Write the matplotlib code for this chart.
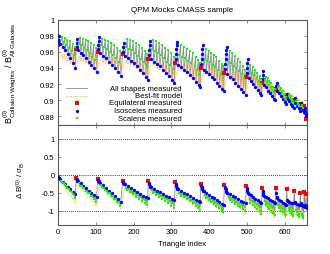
import numpy as np
import matplotlib
matplotlib.use("Agg")
import matplotlib.pyplot as plt

plt.rcParams['font.family'] = ['Liberation Sans', 'DejaVu Sans']
plt.rcParams['mathtext.fontset'] = 'custom'
plt.rcParams['mathtext.rm'] = 'Liberation Sans'
plt.rcParams['mathtext.it'] = 'Liberation Sans:italic'
plt.rcParams['font.size'] = 5.5

# equilateral triangle opening each k1 block
eq_idx = [0, 48, 105, 171, 239, 310, 378, 440, 498, 540, 576, 605, 625, 641, 651, 656]
eq_top = [0.968, 0.964, 0.960, 0.957, 0.951, 0.946, 0.940, 0.934, 0.929, 0.921, 0.914, 0.904, 0.900, 0.895, 0.893, 0.877]
eq_bot = [-0.05, -0.08, -0.11, -0.16, -0.18, -0.20, -0.25, -0.28, -0.31, -0.36, -0.37, -0.41, -0.46, -0.50, -0.48, -0.54]

# isosceles k1=k2<k3 right after the equilateral
col_idx = [1, 2, 3,  49, 50, 51,  106, 107, 108, 109,  172, 173, 174,  240, 241, 242, 243,
           311, 312, 313, 314, 315,  379, 380, 381, 382, 383,  441, 442, 443, 444, 445, 446,
           499, 500, 501, 502,  541, 542, 543,  577, 578,  606,  626,  642,  652, 653,  657]
col_top = [0.972, 0.975, 0.979,  0.966, 0.971, 0.976,  0.963, 0.969, 0.974, 0.978,  0.960, 0.966, 0.971,
           0.956, 0.962, 0.968, 0.973,  0.951, 0.957, 0.963, 0.968, 0.972,  0.945, 0.951, 0.957, 0.963, 0.968,
           0.939, 0.945, 0.951, 0.957, 0.962, 0.966,  0.934, 0.940, 0.946, 0.951,  0.926, 0.931, 0.936,
           0.918, 0.922,  0.908,  0.903,  0.897,  0.890, 0.887,  0.880]
col_bot = [-0.07, -0.09, -0.10,  -0.12, -0.14, -0.16,  -0.14, -0.16, -0.18, -0.20,  -0.19, -0.22, -0.25,
           -0.22, -0.26, -0.30, -0.34,  -0.25, -0.28, -0.32, -0.36, -0.39,  -0.30, -0.34, -0.38, -0.41, -0.44,
           -0.33, -0.37, -0.41, -0.44, -0.47, -0.50,  -0.37, -0.42, -0.46, -0.50,  -0.45, -0.52, -0.57,
           -0.52, -0.62,  -0.70,  -0.75,  -0.80,  -0.85, -0.88,  -0.88]

# isosceles k2=k3 opening each k2 run
iso_idx = [5, 12, 19, 26, 33, 40, 46,
           53, 60, 67, 74, 81, 88, 95, 102,
           110, 118, 126, 134, 142, 150, 158, 166,
           176, 184, 192, 200, 208, 216, 224, 232, 237,
           245, 253, 261, 269, 277, 285, 293, 301, 308,
           317, 325, 333, 341, 349, 357, 365, 372, 376,
           385, 392, 399, 406, 413, 420, 427, 434, 438,
           448, 455, 462, 469, 476, 483, 490, 496,
           504, 510, 516, 522, 528, 534, 538,
           545, 550, 555, 560, 565, 570, 574,
           580, 585, 590, 595, 600, 603,
           608, 612, 616, 620, 623,
           628, 632, 636, 639,
           644, 647, 650,
           654,
           658]
iso_top = [0.970, 0.966, 0.962, 0.957, 0.952, 0.946, 0.940,
           0.962, 0.959, 0.956, 0.952, 0.948, 0.944, 0.940, 0.935,
           0.958, 0.955, 0.952, 0.948, 0.944, 0.940, 0.935, 0.930,
           0.955, 0.952, 0.949, 0.946, 0.942, 0.938, 0.934, 0.929, 0.925,
           0.951, 0.948, 0.945, 0.942, 0.938, 0.934, 0.930, 0.925, 0.921,
           0.944, 0.941, 0.938, 0.935, 0.931, 0.927, 0.923, 0.919, 0.917,
           0.938, 0.935, 0.932, 0.929, 0.926, 0.922, 0.918, 0.914, 0.912,
           0.932, 0.929, 0.926, 0.922, 0.918, 0.914, 0.910, 0.907,
           0.927, 0.924, 0.920, 0.917, 0.913, 0.909, 0.907,
           0.919, 0.916, 0.912, 0.909, 0.905, 0.902, 0.900,
           0.912, 0.909, 0.905, 0.902, 0.898, 0.895,
           0.902, 0.899, 0.896, 0.893, 0.890,
           0.897, 0.893, 0.890, 0.887,
           0.891, 0.888, 0.885,
           0.884,
           0.883]
iso_bot = [-0.12, -0.19, -0.26, -0.33, -0.40, -0.47, -0.54,
           -0.18, -0.24, -0.31, -0.37, -0.44, -0.50, -0.56, -0.62,
           -0.22, -0.29, -0.37, -0.44, -0.52, -0.59, -0.67, -0.75,
           -0.27, -0.32, -0.38, -0.43, -0.48, -0.53, -0.58, -0.63, -0.66,
           -0.34, -0.39, -0.44, -0.49, -0.54, -0.58, -0.63, -0.67, -0.71,
           -0.40, -0.45, -0.50, -0.55, -0.60, -0.65, -0.70, -0.74, -0.77,
           -0.45, -0.50, -0.56, -0.61, -0.66, -0.71, -0.76, -0.81, -0.84,
           -0.50, -0.54, -0.59, -0.63, -0.68, -0.72, -0.76, -0.80,
           -0.53, -0.57, -0.62, -0.67, -0.71, -0.76, -0.80,
           -0.58, -0.62, -0.66, -0.70, -0.74, -0.77, -0.80,
           -0.66, -0.70, -0.74, -0.78, -0.82, -0.85,
           -0.74, -0.76, -0.78, -0.79, -0.80,
           -0.80, -0.82, -0.84, -0.85,
           -0.85, -0.87, -0.88,
           -0.90,
           -0.92]

# scalene, middle and end of each k2 run
sca_idx = [8, 11, 15, 18, 22, 25, 29, 32, 36, 39, 43, 45,
           56, 59, 63, 66, 70, 73, 77, 80, 84, 87, 91, 94, 98, 101,
           114, 117, 122, 125, 130, 133, 138, 141, 146, 149, 154, 157, 162, 165,
           180, 183, 188, 191, 196, 199, 204, 207, 212, 215, 220, 223, 228, 231, 234, 236,
           249, 252, 257, 260, 265, 268, 273, 276, 281, 284, 289, 292, 297, 300, 304, 307,
           321, 324, 329, 332, 337, 340, 345, 348, 353, 356, 361, 364, 368, 371, 374, 375,
           388, 391, 395, 398, 402, 405, 409, 412, 416, 419, 423, 426, 430, 433, 436, 437,
           451, 454, 458, 461, 465, 468, 472, 475, 479, 482, 486, 489, 493, 495,
           507, 509, 513, 515, 519, 521, 525, 527, 531, 533, 536, 537,
           547, 549, 552, 554, 557, 559, 562, 564, 567, 569, 572, 573,
           582, 584, 587, 589, 592, 594, 597, 599, 601, 602,
           610, 611, 614, 615, 618, 619, 621, 622,
           630, 631, 634, 635, 637, 638,
           645, 646, 648, 649]
sca_top = [0.975, 0.978, 0.972, 0.977, 0.969, 0.975, 0.965, 0.973, 0.961, 0.970, 0.956, 0.966,
           0.970, 0.977, 0.968, 0.976, 0.965, 0.975, 0.962, 0.973, 0.958, 0.971, 0.954, 0.968, 0.950, 0.965,
           0.968, 0.976, 0.966, 0.975, 0.963, 0.973, 0.960, 0.971, 0.956, 0.968, 0.952, 0.965, 0.947, 0.961,
           0.966, 0.976, 0.964, 0.975, 0.962, 0.973, 0.959, 0.971, 0.955, 0.968, 0.951, 0.965, 0.947, 0.961, 0.942, 0.957,
           0.963, 0.975, 0.961, 0.973, 0.959, 0.971, 0.956, 0.968, 0.952, 0.965, 0.948, 0.962, 0.944, 0.958, 0.939, 0.954,
           0.956, 0.968, 0.954, 0.966, 0.952, 0.964, 0.949, 0.961, 0.946, 0.958, 0.942, 0.954, 0.938, 0.950, 0.932, 0.946,
           0.951, 0.963, 0.949, 0.961, 0.947, 0.959, 0.944, 0.956, 0.941, 0.953, 0.937, 0.949, 0.933, 0.945, 0.928, 0.942,
           0.948, 0.961, 0.946, 0.958, 0.943, 0.955, 0.940, 0.951, 0.936, 0.947, 0.932, 0.942, 0.927, 0.938,
           0.936, 0.944, 0.934, 0.941, 0.931, 0.938, 0.928, 0.934, 0.924, 0.930, 0.920, 0.926,
           0.925, 0.929, 0.923, 0.927, 0.920, 0.924, 0.917, 0.921, 0.913, 0.917, 0.910, 0.914,
           0.916, 0.918, 0.913, 0.915, 0.910, 0.912, 0.906, 0.908, 0.902, 0.904,
           0.905, 0.907, 0.903, 0.905, 0.900, 0.902, 0.897, 0.899,
           0.899, 0.900, 0.896, 0.897, 0.893, 0.894,
           0.893, 0.894, 0.890, 0.891]
sca_bot = [-0.16, -0.20, -0.24, -0.28, -0.32, -0.37, -0.40, -0.46, -0.48, -0.55, -0.56, -0.64,
           -0.24, -0.30, -0.31, -0.37, -0.38, -0.45, -0.45, -0.52, -0.52, -0.60, -0.59, -0.67, -0.66, -0.76,
           -0.29, -0.35, -0.36, -0.43, -0.44, -0.51, -0.51, -0.59, -0.59, -0.67, -0.67, -0.76, -0.75, -0.88,
           -0.36, -0.43, -0.41, -0.49, -0.47, -0.55, -0.52, -0.61, -0.57, -0.67, -0.62, -0.73, -0.67, -0.79, -0.72, -0.85,
           -0.43, -0.50, -0.48, -0.56, -0.53, -0.62, -0.58, -0.68, -0.63, -0.74, -0.68, -0.80, -0.73, -0.86, -0.78, -0.94,
           -0.50, -0.58, -0.55, -0.63, -0.60, -0.68, -0.65, -0.74, -0.70, -0.80, -0.75, -0.86, -0.80, -0.92, -0.86, -1.00,
           -0.57, -0.66, -0.62, -0.71, -0.67, -0.76, -0.72, -0.81, -0.77, -0.86, -0.82, -0.92, -0.87, -0.98, -0.92, -1.03,
           -0.62, -0.71, -0.66, -0.76, -0.71, -0.81, -0.75, -0.86, -0.80, -0.91, -0.84, -0.96, -0.88, -1.00,
           -0.68, -0.80, -0.72, -0.85, -0.77, -0.90, -0.82, -0.95, -0.86, -1.00, -0.91, -1.08,
           -0.74, -0.85, -0.78, -0.90, -0.82, -0.95, -0.86, -1.00, -0.90, -1.06, -0.94, -1.12,
           -0.84, -0.94, -0.88, -1.00, -0.92, -1.05, -0.96, -1.10, -1.00, -1.12,
           -0.92, -1.00, -0.96, -1.05, -1.00, -1.10, -1.04, -1.15,
           -0.98, -1.05, -1.04, -1.12, -1.10, -1.18,
           -1.08, -1.15, -1.14, -1.20]

# best-fit model at the isosceles points (same order as iso_idx)
mod_iso_top = [0.952, 0.951, 0.950, 0.948, 0.946, 0.944, 0.942,
               0.950, 0.949, 0.948, 0.946, 0.944, 0.942, 0.940, 0.937,
               0.948, 0.947, 0.946, 0.944, 0.942, 0.939, 0.936, 0.932,
               0.946, 0.945, 0.943, 0.941, 0.939, 0.936, 0.933, 0.929, 0.926,
               0.943, 0.942, 0.940, 0.938, 0.935, 0.932, 0.928, 0.924, 0.921,
               0.940, 0.938, 0.936, 0.933, 0.930, 0.926, 0.922, 0.919, 0.917,
               0.934, 0.932, 0.930, 0.927, 0.924, 0.921, 0.918, 0.914, 0.912,
               0.928, 0.926, 0.923, 0.920, 0.917, 0.914, 0.911, 0.908,
               0.924, 0.922, 0.919, 0.916, 0.913, 0.910, 0.908,
               0.918, 0.915, 0.913, 0.910, 0.907, 0.905, 0.903,
               0.912, 0.910, 0.907, 0.905, 0.903, 0.901,
               0.907, 0.905, 0.903, 0.901, 0.899,
               0.903, 0.901, 0.899, 0.897,
               0.899, 0.897, 0.895,
               0.893,
               0.886]
mod_iso_bot = [-0.20, -0.30, -0.40, -0.50, -0.58, -0.66, -0.74,
               -0.28, -0.36, -0.44, -0.52, -0.60, -0.67, -0.74, -0.80,
               -0.30, -0.38, -0.47, -0.55, -0.63, -0.71, -0.79, -0.86,
               -0.36, -0.42, -0.48, -0.54, -0.60, -0.65, -0.70, -0.75, -0.78,
               -0.42, -0.48, -0.53, -0.58, -0.63, -0.68, -0.73, -0.77, -0.80,
               -0.48, -0.53, -0.58, -0.63, -0.68, -0.73, -0.78, -0.82, -0.85,
               -0.55, -0.60, -0.66, -0.71, -0.76, -0.81, -0.86, -0.90, -0.93,
               -0.60, -0.65, -0.70, -0.75, -0.80, -0.84, -0.88, -0.92,
               -0.64, -0.69, -0.74, -0.79, -0.84, -0.88, -0.92,
               -0.70, -0.74, -0.78, -0.82, -0.86, -0.90, -0.94,
               -0.78, -0.82, -0.86, -0.90, -0.94, -0.97,
               -0.86, -0.89, -0.92, -0.95, -0.97,
               -0.92, -0.95, -0.98, -1.00,
               -0.98, -1.00, -1.02,
               -1.05,
               -1.00]
# best-fit model at the end of each scalene run (same order as sca_idx[1::2])
mod_end_top = [0.957, 0.959, 0.960, 0.960, 0.958, 0.955,
               0.955, 0.957, 0.958, 0.958, 0.957, 0.955, 0.952,
               0.952, 0.954, 0.955, 0.955, 0.954, 0.952, 0.949,
               0.950, 0.951, 0.951, 0.950, 0.948, 0.946, 0.943, 0.939,
               0.947, 0.948, 0.948, 0.947, 0.945, 0.943, 0.940, 0.937,
               0.945, 0.946, 0.946, 0.945, 0.943, 0.941, 0.938, 0.935,
               0.940, 0.941, 0.941, 0.940, 0.938, 0.936, 0.933, 0.930,
               0.935, 0.936, 0.935, 0.934, 0.932, 0.929, 0.926,
               0.930, 0.930, 0.929, 0.927, 0.925, 0.922,
               0.924, 0.923, 0.921, 0.919, 0.917, 0.915,
               0.917, 0.916, 0.914, 0.912, 0.909,
               0.910, 0.909, 0.907, 0.905,
               0.905, 0.903, 0.901,
               0.900, 0.898]
mod_end_bot = [-0.27, -0.38, -0.48, -0.58, -0.68, -0.80,
               -0.36, -0.44, -0.53, -0.61, -0.69, -0.77, -0.88,
               -0.38, -0.47, -0.56, -0.64, -0.73, -0.82, -0.94,
               -0.46, -0.52, -0.58, -0.65, -0.71, -0.77, -0.84, -0.92,
               -0.52, -0.58, -0.64, -0.70, -0.76, -0.82, -0.88, -0.96,
               -0.60, -0.66, -0.72, -0.78, -0.84, -0.90, -0.96, -1.04,
               -0.68, -0.74, -0.80, -0.86, -0.92, -0.98, -1.04, -1.10,
               -0.74, -0.80, -0.86, -0.92, -0.98, -1.04, -1.10,
               -0.82, -0.88, -0.94, -1.00, -1.06, -1.14,
               -0.90, -0.96, -1.02, -1.08, -1.14, -1.20,
               -1.00, -1.06, -1.12, -1.16, -1.20,
               -1.08, -1.13, -1.18, -1.22,
               -1.15, -1.20, -1.25,
               -1.20, -1.25]

x_ticks = [0, 100, 200, 300, 400, 500, 600]
top_ticks = [0.88, 0.90, 0.92, 0.94, 0.96, 0.98, 1.00]
top_ticklabels = ['0.88', '0.9', '0.92', '0.94', '0.96', '0.98', '1']
bot_ticks = [-1, -0.5, 0, 0.5, 1]
bot_ticklabels = ['-1', '-0.5', '0', '0.5', '1']

GRAY = '#8c8c8c'
ORANGE = '#ffb54a'
FRAME = '#5a5a5a'

# merged sequences for the connecting lines
all_idx = np.concatenate([eq_idx, col_idx, iso_idx, sca_idx])
order = np.argsort(all_idx, kind='stable')
all_idx = all_idx[order]
all_top = np.concatenate([eq_top, col_top, iso_top, sca_top])[order]
all_bot = np.concatenate([eq_bot, col_bot, iso_bot, sca_bot])[order]

mod_idx = np.concatenate([iso_idx, sca_idx[1::2]])
morder = np.argsort(mod_idx, kind='stable')
mod_idx = mod_idx[morder]
mod_top = np.concatenate([mod_iso_top, mod_end_top])[morder]
mod_bot = np.concatenate([mod_iso_bot, mod_end_bot])[morder]

fig = plt.figure(figsize=(3.3, 2.55), dpi=100)
ax1 = fig.add_axes([0.1758, 0.5078, 0.754, 0.4118])
ax2 = fig.add_axes([0.1758, 0.1137, 0.754, 0.3941])

for ax, ally, mody, eqy, coly, isoy, scay in [
        (ax1, all_top, mod_top, eq_top, col_top, iso_top, sca_top),
        (ax2, all_bot, mod_bot, eq_bot, col_bot, iso_bot, sca_bot)]:
    ax.plot(all_idx, ally, color=GRAY, lw=0.6, zorder=2)
    ax.plot(mod_idx, mody, color=ORANGE, lw=0.8, ls=(0, (1, 1)), zorder=2)
    ax.plot(eq_idx, eqy, 's', color='#ff0000', ms=2.2, mew=0, zorder=3)
    ax.plot(col_idx, coly, 'o', color='#0000ff', ms=2.4, mew=0, zorder=4)
    ax.plot(iso_idx, isoy, 'o', color='#0000ff', ms=2.4, mew=0, zorder=4)
    ax.plot(sca_idx, scay, 's', color='#00ff00', ms=1.6, mew=0, zorder=5)
    ax.set_xlim(0, 658)
    ax.set_xticks(x_ticks)
    ax.tick_params(direction='in', top=True, right=True, length=2.5, width=0.5,
                   color=FRAME, labelsize=5.5, pad=2.5)
    for s in ax.spines.values():
        s.set_color(FRAME)
        s.set_linewidth(0.8)

ax1.set_ylim(0.87, 1.0)
ax1.set_yticks(top_ticks)
ax1.set_yticklabels(top_ticklabels)
ax1.set_xticklabels([])

ax2.set_ylim(-1.4, 1.4)
ax2.set_yticks(bot_ticks)
ax2.set_yticklabels(bot_ticklabels)
for yv in [-1, 0, 1]:
    ax2.axhline(yv, color='black', lw=0.6, ls=(0, (1, 1.5)), zorder=1)

ax1.set_ylabel(r'$\mathrm{B^{(0)}_{Collision\ Weights}\ /\ B^{(0)}_{All\ Galaxies}}$', fontsize=6.4)
ax1.yaxis.set_label_coords(-0.16, 0.5)
ax2.set_ylabel(r'$\mathrm{\Delta\ B^{(0)}\ /\ \sigma_B}$', fontsize=5.8)
ax2.yaxis.set_label_coords(-0.125, 0.45)
ax2.set_xlabel('Triangle index', fontsize=5.5, labelpad=3)

fig.text(0.553, 0.958, 'QPM Mocks CMASS sample', ha='center', va='center', fontsize=5.8)

# key, text right-justified with samples on the left
key_labels = ['All shapes measured', 'Best-fit model', 'Equilateral measured',
              'Isosceles measured', 'Scalene measured']
key_y = [0.345, 0.274, 0.205, 0.131, 0.062]
tr = ax1.transAxes
ax1.plot([0.032, 0.116], [key_y[0]] * 2, color=GRAY, lw=0.6, transform=tr)
ax1.plot([0.032, 0.116], [key_y[1]] * 2, color=ORANGE, lw=0.8, ls=(0, (1, 1)), transform=tr)
ax1.plot([0.076], [key_y[2]], 's', color='#ff0000', ms=2.2, mew=0, transform=tr)
ax1.plot([0.076], [key_y[3]], 'o', color='#0000ff', ms=2.4, mew=0, transform=tr)
ax1.plot([0.076], [key_y[4]], 's', color='#00ff00', ms=1.6, mew=0, transform=tr)
for lab, yk in zip(key_labels, key_y):
    ax1.text(0.498, yk, lab, transform=tr, ha='right', va='center', fontsize=5.5)

fig.savefig('out.png', dpi=100)
